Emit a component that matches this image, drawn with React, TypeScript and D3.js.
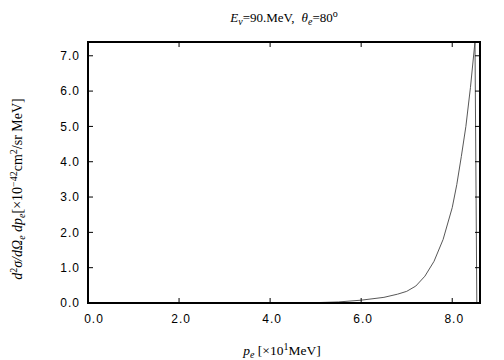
import React from "react";
import * as d3 from "d3";

const xTicks = [0, 2, 4, 6, 8];
const yTicks = [0, 1, 2, 3, 4, 5, 6, 7];
const pe = [4.7, 5.0, 5.5, 6.0, 6.5, 6.8, 7.0, 7.2, 7.4, 7.6, 7.8, 8.0, 8.1, 8.2, 8.3, 8.4, 8.5, 8.54];
const xs = [0.0, 0.01, 0.03, 0.08, 0.16, 0.25, 0.33, 0.48, 0.76, 1.18, 1.8, 2.7, 3.35, 4.15, 5.0, 6.1, 7.4, 0.0];

const W = 504, H = 360;
const L = 88, R = 480, T = 42, B = 303;

export default function App() {
  const x = d3.scaleLinear().domain([0, 8.61]).range([L, R]);
  const y = d3.scaleLinear().domain([0, 7.39]).range([B, T]);
  const line = d3.line<number>().x((_, i) => x(pe[i])).y((d) => y(d));
  const tl = 5;
  const sans = "Liberation Sans, Arial, sans-serif";
  const serif = "Liberation Serif, Times New Roman, serif";
  return (
    <svg width={W} height={H} style={{ position: "absolute", left: 0, top: 0 }}>
      <rect width={W} height={H} fill="#fff" />
      <defs>
        <clipPath id="plot">
          <rect x={L} y={T} width={R - L} height={B - T} />
        </clipPath>
      </defs>
      <path d={line(xs) || ""} fill="none" stroke="#444" strokeWidth={0.9} clipPath="url(#plot)" />
      {xTicks.map((t) => (
        <g key={"x" + t}>
          <line x1={x(t)} x2={x(t)} y1={B} y2={B - tl} stroke="#000" strokeWidth={1} />
          <line x1={x(t)} x2={x(t)} y1={T} y2={T + tl} stroke="#000" strokeWidth={1} />
          <text x={x(t) + (t === 0 ? 6 : 2)} y={323} textAnchor="middle" fontFamily={sans} fontSize={12} letterSpacing={1} fill="#000">
            {t.toFixed(1)}
          </text>
        </g>
      ))}
      {yTicks.map((t) => (
        <g key={"y" + t}>
          <line x1={L} x2={L + tl} y1={y(t)} y2={y(t)} stroke="#000" strokeWidth={1} />
          <line x1={R} x2={R - tl} y1={y(t)} y2={y(t)} stroke="#000" strokeWidth={1} />
          <text x={80} y={y(t) + 4.3} textAnchor="end" fontFamily={sans} fontSize={12} letterSpacing={1} fill="#000">
            {t.toFixed(1)}
          </text>
        </g>
      ))}
      <rect x={L} y={T} width={R - L} height={B - T} fill="none" stroke="#000" strokeWidth={2} />
      <text x={284} y={22} textAnchor="middle" fontFamily={serif} fontSize={13} fill="#000">
        <tspan fontStyle="italic">E</tspan>
        <tspan fontStyle="italic" fontSize={10} dy={3}>ν</tspan>
        <tspan dy={-3}>=90.MeV,</tspan>
        <tspan fontStyle="italic" dx={7}>θ</tspan>
        <tspan fontStyle="italic" fontSize={10} dy={3}>e</tspan>
        <tspan dy={-3}>=80</tspan>
        <tspan fontSize={10} dy={-5}>o</tspan>
      </text>
      <text x={282} y={355} textAnchor="middle" fontFamily={serif} fontSize={13.5} fill="#000">
        <tspan fontStyle="italic">p</tspan>
        <tspan fontStyle="italic" fontSize={10} dy={3}>e</tspan>
        <tspan dy={-3}> [×10</tspan>
        <tspan fontSize={10} dy={-5}>1</tspan>
        <tspan dy={5}>MeV]</tspan>
      </text>
      <text transform="translate(22,189) rotate(-90)" textAnchor="middle" fontFamily={serif} fontSize={14} fill="#000">
        <tspan fontStyle="italic">d</tspan>
        <tspan fontSize={10} dy={-5}>2</tspan>
        <tspan fontStyle="italic" dy={5}>σ/dΩ</tspan>
        <tspan fontStyle="italic" fontSize={10} dy={3}>e</tspan>
        <tspan fontStyle="italic" dy={-3}> dp</tspan>
        <tspan fontStyle="italic" fontSize={10} dy={3}>e</tspan>
        <tspan dy={-3}>[×10</tspan>
        <tspan fontSize={10} dy={-5}>−42</tspan>
        <tspan dy={5}>cm</tspan>
        <tspan fontSize={10} dy={-5}>2</tspan>
        <tspan dy={5}>/sr MeV]</tspan>
      </text>
    </svg>
  );
}
